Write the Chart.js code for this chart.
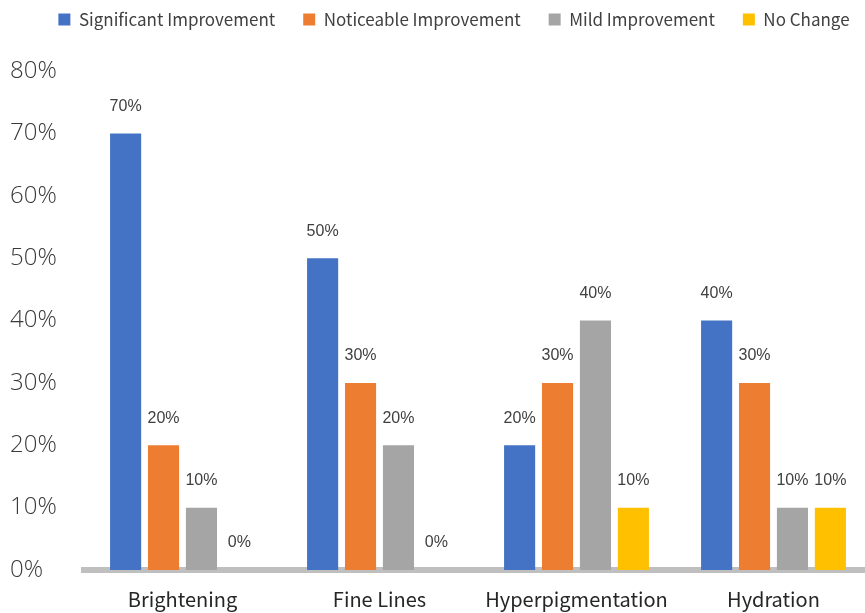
<!DOCTYPE html>
<html>
<head>
<meta charset="utf-8">
<script src="https://cdn.jsdelivr.net/npm/chart.js@4"></script>
<style>
  html, body { margin: 0; padding: 0; background: #fff; overflow: hidden; }
  #wrap { width: 865px; height: 613px; overflow: hidden; }
</style>
</head>
<body>
<div id="wrap"><canvas id="chBar" width="872" height="613"></canvas></div>
<script>
// chart data
var categories = ["Brightening", "Fine Lines", "Hyperpigmentation", "Hydration"];
var significant = [70, 50, 20, 40];
var noticeable = [20, 30, 30, 30];
var mild = [10, 20, 40, 10];
var noChange = [0, 0, 10, 10];

// colors
var colors = ["#4472c4", "#ed7d31", "#a5a5a5", "#ffc000"];
var uiFont = "'Noto Sans CJK SC', 'Noto Sans', sans-serif";

// room under the legend + push it a bit right
var legendTweak = {
  id: "legendTweak",
  beforeInit: function (chart) {
    var origFit = chart.legend.fit;
    chart.legend.fit = function () {
      origFit.bind(chart.legend)();
      this.height += 33;
    };
  },
  afterLayout: function (chart) {
    chart.legend.left += 13;
    chart.legend.right += 13;
  }
};

// value labels above bars
var barLabels = {
  id: "barLabels",
  afterDatasetsDraw: function (chart) {
    var ctx = chart.ctx;
    ctx.save();
    ctx.font = "16px 'Liberation Sans'";
    ctx.fillStyle = "#404040";
    ctx.textAlign = "center";
    ctx.textBaseline = "middle";
    chart.data.datasets.forEach(function (ds, i) {
      var meta = chart.getDatasetMeta(i);
      meta.data.forEach(function (bar, j) {
        ctx.fillText(ds.data[j] + "%", bar.x, bar.y - 27);
      });
    });
    ctx.restore();
  }
};

var chBar = document.getElementById("chBar");
if (chBar) {
  new Chart(chBar, {
    type: "bar",
    data: {
      labels: categories,
      datasets: [
        { label: "Significant Improvement", data: significant, backgroundColor: colors[0] },
        { label: "Noticeable Improvement", data: noticeable, backgroundColor: colors[1] },
        { label: "Mild Improvement", data: mild, backgroundColor: colors[2] },
        { label: "No Change", data: noChange, backgroundColor: colors[3] }
      ]
    },
    options: {
      responsive: false,
      animation: false,
      categoryPercentage: 0.77,
      barPercentage: 0.82,
      layout: { padding: { top: -17, left: 10, right: 0, bottom: 0 } },
      plugins: {
        legend: {
          position: "top",
          labels: {
            boxWidth: 12,
            boxHeight: 12,
            padding: 28,
            color: "#404040",
            font: { family: uiFont, size: 17 }
          }
        },
        tooltip: { enabled: false }
      },
      scales: {
        x: {
          grid: { display: false, drawTicks: false },
          border: { display: true, color: "#bfbfbf", width: 6 },
          ticks: {
            padding: 17,
            color: "#262626",
            font: { family: uiFont, size: 20 }
          },
          afterFit: function (scale) { scale.height = 43; }
        },
        y: {
          min: 0,
          max: 80,
          grid: { display: false, drawTicks: false },
          border: { display: false },
          ticks: {
            stepSize: 10,
            crossAlign: "far",
            padding: 16,
            color: "#3a3a3a",
            font: { family: "'Open Sans'", size: 24, weight: 300 },
            callback: function (v) { return v + "%"; }
          },
          afterFit: function (scale) { scale.width = 74; }
        }
      }
    },
    plugins: [legendTweak, barLabels]
  });
}
</script>
</body>
</html>
